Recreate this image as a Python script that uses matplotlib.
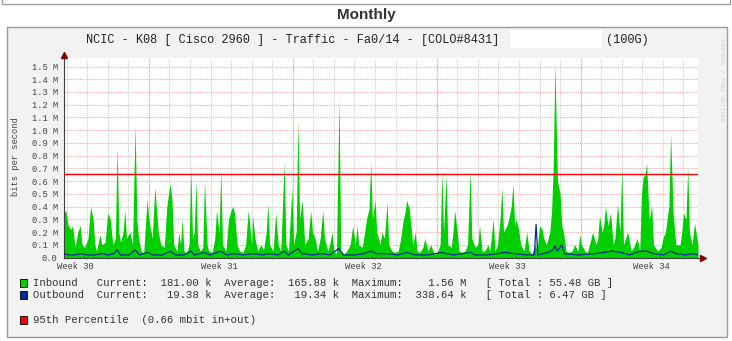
import numpy as np
import matplotlib.pyplot as plt
from matplotlib.patches import Rectangle

W, H = 732, 341

# inbound traffic: hours since graph start, Mbit/s
in_hours = [0, 2, 5, 8, 10, 13, 16, 19, 21, 24,
            28, 31, 34, 36, 38, 42, 44, 48, 51, 54,
            57, 60, 62, 64, 66, 69, 71, 73, 77, 80,
            83, 85, 87, 90, 93, 97, 99, 103, 106, 110,
            113, 117, 120, 122, 124, 126, 128, 132, 134, 136,
            138, 140, 143, 146, 148, 150, 152, 154, 156, 159,
            162, 164, 167, 169, 173, 176, 178, 181, 183, 185,
            189, 192, 195, 197, 199, 202, 205, 209, 212, 215,
            217, 219, 220, 223, 226, 230, 233, 236, 238, 240,
            244, 247, 250, 253, 257, 259, 262, 266, 268, 271,
            273, 275, 278, 281, 285, 287, 288, 290, 293, 296,
            299, 302, 304, 308, 310, 313, 315, 318, 321, 323,
            327, 330, 334, 337, 340, 342, 344, 348, 351, 353,
            356, 358, 360, 363, 365, 369, 371, 374, 377, 379,
            383, 386, 390, 393, 396, 398, 400, 403, 405, 407,
            410, 412, 415, 419, 421, 425, 428, 432, 435, 439,
            441, 443, 446, 448, 452, 454, 456, 459, 461, 464,
            468, 471, 474, 476, 480, 483, 485, 488, 491, 495,
            497, 501, 503, 506, 509, 511, 513, 517, 519, 522,
            524, 526, 528, 531, 533, 537, 540, 543, 546, 550,
            552, 555, 558, 560, 563, 567, 569, 571, 573, 574,
            575, 576, 579, 581, 583, 586, 589, 593, 596, 600,
            602, 604, 608, 611, 614, 617, 621, 623, 625, 628,
            630, 632, 635, 638, 641, 643, 646, 649, 651, 653,
            658, 662, 665, 669, 672, 674, 676, 678, 680, 683,
            686, 688, 693, 697, 699, 702, 704, 706, 708, 711,
            714, 719, 721, 723, 726, 728, 730, 733, 736, 740]
in_mbps = [0.35, 0.37, 0.25, 0.22, 0.25, 0.08, 0.20, 0.25, 0.10, 0.08,
           0.15, 0.40, 0.30, 0.10, 0.05, 0.18, 0.10, 0.12, 0.35, 0.30,
           0.10, 0.15, 0.87, 0.20, 0.12, 0.20, 0.37, 0.15, 0.20, 0.10,
           1.04, 0.30, 0.15, 0.05, 0.03, 0.46, 0.30, 0.15, 0.55, 0.20,
           0.10, 0.08, 0.40, 0.50, 0.58, 0.45, 0.10, 0.05, 0.20, 0.10,
           0.30, 0.05, 0.03, 0.10, 0.70, 0.15, 0.20, 0.60, 0.10, 0.05,
           0.08, 0.60, 0.10, 0.05, 0.04, 0.15, 0.37, 0.20, 0.68, 0.10,
           0.05, 0.30, 0.37, 0.40, 0.35, 0.10, 0.05, 0.04, 0.10, 0.37,
           0.24, 0.10, 0.33, 0.15, 0.05, 0.10, 0.06, 0.20, 0.42, 0.10,
           0.05, 0.35, 0.10, 0.05, 0.75, 0.10, 0.05, 0.55, 0.10, 0.20,
           1.08, 0.30, 0.45, 0.10, 0.15, 0.30, 0.37, 0.20, 0.15, 0.05,
           0.15, 0.37, 0.15, 0.05, 0.10, 0.20, 0.05, 0.03, 1.25, 0.05,
           0.03, 0.05, 0.10, 0.25, 0.10, 0.25, 0.10, 0.08, 0.20, 0.30,
           0.38, 0.75, 0.30, 0.45, 0.20, 0.10, 0.20, 0.15, 0.43, 0.10,
           0.05, 0.04, 0.05, 0.15, 0.30, 0.35, 0.45, 0.38, 0.25, 0.10,
           0.20, 0.05, 0.04, 0.08, 0.15, 0.05, 0.10, 0.03, 0.03, 0.10,
           0.67, 0.20, 0.65, 0.10, 0.08, 0.20, 0.37, 0.20, 0.05, 0.04,
           0.05, 0.10, 0.68, 0.15, 0.08, 0.10, 0.25, 0.05, 0.05, 0.10,
           0.05, 0.30, 0.05, 0.10, 0.30, 0.55, 0.20, 0.25, 0.30, 0.40,
           0.58, 0.25, 0.30, 0.20, 0.10, 0.05, 0.20, 0.05, 0.03, 0.10,
           0.05, 0.25, 0.22, 0.15, 0.10, 0.20, 0.35, 0.70, 1.52, 1.20,
           0.90, 0.60, 0.50, 0.25, 0.20, 0.05, 0.04, 0.05, 0.10, 0.05,
           0.18, 0.10, 0.05, 0.04, 0.12, 0.20, 0.10, 0.15, 0.33, 0.20,
           0.25, 0.40, 0.25, 0.35, 0.10, 0.15, 0.42, 0.20, 0.71, 0.10,
           0.20, 0.05, 0.08, 0.15, 0.05, 0.50, 0.63, 0.65, 0.74, 0.30,
           0.40, 0.10, 0.05, 0.08, 0.15, 0.20, 0.30, 0.40, 0.97, 0.35,
           0.10, 0.10, 0.20, 0.35, 0.30, 0.71, 0.20, 0.10, 0.27, 0.10]

# outbound traffic
out_hours = [0, 6, 12, 20, 28, 36, 44, 52, 58, 62,
             66, 76, 83, 88, 97, 104, 115, 124, 130, 140,
             148, 152, 164, 170, 183, 190, 198, 210, 220, 232,
             240, 250, 257, 262, 273, 278, 290, 302, 310, 321,
             326, 340, 350, 358, 365, 376, 390, 400, 410, 425,
             441, 446, 455, 474, 480, 495, 505, 515, 525, 540,
             549, 551, 553, 565, 571, 573, 576, 581, 584, 600,
             620, 640, 650, 660, 672, 680, 688, 700, 708, 715,
             725, 735, 740]
out_mbps = [0.03, 0.02, 0.02, 0.03, 0.02, 0.02, 0.03, 0.02, 0.03, 0.06,
            0.02, 0.02, 0.06, 0.02, 0.04, 0.02, 0.02, 0.05, 0.02, 0.02,
            0.05, 0.02, 0.04, 0.02, 0.05, 0.02, 0.03, 0.02, 0.03, 0.02,
            0.03, 0.02, 0.05, 0.02, 0.07, 0.03, 0.02, 0.03, 0.02, 0.07,
            0.02, 0.02, 0.03, 0.05, 0.03, 0.03, 0.02, 0.04, 0.02, 0.02,
            0.04, 0.03, 0.02, 0.04, 0.02, 0.02, 0.03, 0.04, 0.03, 0.02,
            0.02, 0.26, 0.02, 0.04, 0.06, 0.09, 0.05, 0.10, 0.03, 0.02,
            0.03, 0.05, 0.04, 0.02, 0.05, 0.05, 0.03, 0.02, 0.05, 0.03,
            0.02, 0.03, 0.02]

percentile_95 = 0.655

week_labels = ['Week 30', 'Week 31', 'Week 32', 'Week 33', 'Week 34']
week_label_hours = [13, 181, 349, 517, 685]
week_line_hours = [99, 267, 435, 603]

title = 'NCIC - K08 [ Cisco 2960 ] - Traffic - Fa0/14 - [COLO#8431]'
legend_lines = [
    'Inbound   Current:  181.00 k  Average:  165.88 k  Maximum:    1.56 M   [ Total : 55.48 GB ]',
    'Outbound  Current:   19.38 k  Average:   19.34 k  Maximum:  338.64 k   [ Total : 6.47 GB ]',
    '95th Percentile  (0.66 mbit in+out)',
]

GREEN = '#00cf00'
BLUE = '#002a97'
RED = '#ff0000'
MONO = 'Liberation Mono'


def fx(x):
    return x / W


def fy(y):
    return 1 - y / H


def box(x0, y0, x1, y1, **kw):
    fig.add_artist(Rectangle((fx(x0), fy(y1)), (x1 - x0) / W, (y1 - y0) / H,
                             transform=fig.transFigure, **kw))


fig = plt.figure(figsize=(W / 100, H / 100), dpi=100)
fig.patch.set_facecolor('white')

# page frame bits and graph image background (behind the axes)
box(1.5, -5, 729.5, 3.5, facecolor='white', edgecolor='#a0a0a0', lw=1, zorder=-10)
box(7, 27, 727, 337, facecolor='#f2f2f2', edgecolor='#9a9a9a', lw=1, zorder=-10)
fig.text(fx(366), fy(15), 'Monthly', ha='center', va='center',
         fontsize=11, fontweight='bold', family='Liberation Sans', color='#333333')

fig.text(fx(86), fy(39.5), title, ha='left', va='center', fontsize=8.6,
         family=MONO, color='#222222')
box(510, 30, 602, 48, facecolor='white', edgecolor='none', zorder=-5)
fig.text(fx(606), fy(39.5), '(100G)', ha='left', va='center', fontsize=8.6,
         family=MONO, color='#222222')
fig.text(fx(722), fy(80), 'RRDTOOL / TOBI OETIKER', rotation=-90, ha='center',
         va='center', fontsize=4.5, family=MONO, color='#d0d0d0')

ax = fig.add_axes([fx(64), fy(257.5), 634 / W, (257.5 - 58) / H])
ax.set_facecolor('white')
ax.set_xlim(0, 740)
ax.set_ylim(0, 1.567)

# grid
for h in range(3, 740, 24):
    ax.axvline(h, color='#cfcfcf', lw=0.8, ls=(0, (1, 1)), zorder=0)
for h in week_line_hours:
    ax.axvline(h, color='#f0a0a0', lw=0.8, ls=(0, (1, 1)), zorder=0)
for v in np.arange(0.1, 1.51, 0.1):
    ax.axhline(v, color='#f0a8a8', lw=0.8, ls=(0, (1, 1)), zorder=0)

ax.fill_between(in_hours, in_mbps, color=GREEN, lw=0, zorder=2)
ax.plot(out_hours, out_mbps, color=BLUE, lw=0.9, zorder=3)
ax.axhline(percentile_95, color=RED, lw=1.0, zorder=4)

for s in ['top', 'right']:
    ax.spines[s].set_visible(False)
for s in ['left', 'bottom']:
    ax.spines[s].set_color('#404040')
    ax.spines[s].set_linewidth(0.8)

ax.plot([0], [1.59], marker='^', color='#800000', ms=4, clip_on=False, zorder=5)
ax.plot([746], [0], marker='>', color='#800000', ms=4, clip_on=False, zorder=5)
ax.plot([740, 746], [0, 0], color='#404040', lw=0.8, clip_on=False)

yt = np.round(np.arange(0, 1.51, 0.1), 1)
ax.set_yticks(yt)
ax.set_yticklabels(['0.0'] + ['%.1f M' % v for v in yt[1:]])
ax.set_xticks(week_label_hours)
ax.set_xticklabels(week_labels)
ax.set_xticks(range(3, 740, 24), minor=True)
ax.tick_params(axis='y', length=0, pad=4.5, labelsize=6.3, labelcolor='#444444')
ax.tick_params(axis='x', which='major', length=0, pad=3, labelsize=6.3,
               labelcolor='#444444')
ax.tick_params(axis='x', which='minor', length=2, direction='inout',
               color='#909090', width=0.6)
for lab in ax.get_xticklabels() + ax.get_yticklabels():
    lab.set_family(MONO)

fig.text(fx(16), fy(157), 'bits per second', rotation=90, ha='center',
         va='center', fontsize=6.3, family=MONO, color='#444444')

# legend
for y, col, text in zip([283, 295, 320], [GREEN, BLUE, RED], legend_lines):
    box(20, y - 4, 27, y + 4, facecolor=col, edgecolor='black', lw=0.6)
    fig.text(fx(33), fy(y), text, ha='left', va='center', fontsize=7.7,
             family=MONO, color='#333333')

fig.savefig('out.png', dpi=100)
